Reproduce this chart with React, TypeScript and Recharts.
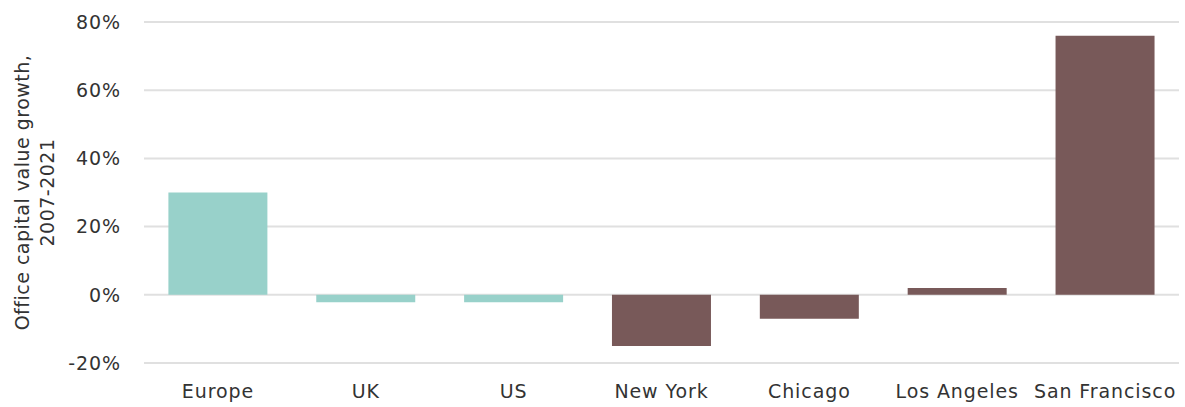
import React from "react";
import { BarChart, Bar, XAxis, YAxis, CartesianGrid, Cell } from "recharts";

const categories = ["Europe", "UK", "US", "New York", "Chicago", "Los Angeles", "San Francisco"];
const growth = [30, -2.2, -2.2, -15, -7, 2, 76];
const groups = ["region", "region", "region", "city", "city", "city", "city"];
const yTicks = [-20, 0, 20, 40, 60, 80];

const colors: Record<string, string> = { region: "#98D1CA", city: "#785959" };

const data = categories.map((c, i) => ({ name: c, value: growth[i], group: groups[i] }));

const FONT = "'DejaVu Sans', sans-serif";
const TEXT = "#333";

const YLabel = (props: any) => {
  const vb = props.viewBox || {};
  const cy = vb.y + vb.height / 2;
  const x = 23;
  return (
    <text
      transform={`rotate(-90, ${x}, ${cy})`}
      x={x}
      y={cy}
      textAnchor="middle"
      fill={TEXT}
      fontSize={19}
      letterSpacing={0.5}
      fontFamily={FONT}
    >
      <tspan x={x} dy={6}>Office capital value growth,</tspan>
      <tspan x={x} dy={25}>2007-2021</tspan>
    </text>
  );
};

export default function App() {
  return (
    <div style={{ position: "absolute", left: 0, top: 0, width: 1185, height: 407, background: "#fff" }}>
      <BarChart
        width={1185}
        height={407}
        data={data}
        margin={{ top: 22, right: 6, bottom: 0, left: 0 }}
        barCategoryGap="16.5%"
      >
        <CartesianGrid vertical={false} stroke="#e0e0e0" strokeWidth={2} />
        <XAxis
          dataKey="name"
          axisLine={false}
          tickLine={false}
          height={44}
          tick={{ fill: TEXT, fontSize: 19, fontFamily: FONT, letterSpacing: 0.9 }}
          tickMargin={16}
          interval={0}
        />
        <YAxis
          domain={[-20, 80]}
          ticks={yTicks}
          width={144}
          axisLine={false}
          tickLine={false}
          tickMargin={17}
          tickFormatter={(v: number) => `${v}%`}
          tick={{ fill: TEXT, fontSize: 19, fontFamily: FONT, letterSpacing: 0.9 }}
          label={<YLabel />}
        />
        <Bar dataKey="value" isAnimationActive={false}>
          {data.map((d, i) => (
            <Cell key={i} fill={colors[d.group]} />
          ))}
        </Bar>
      </BarChart>
    </div>
  );
}
